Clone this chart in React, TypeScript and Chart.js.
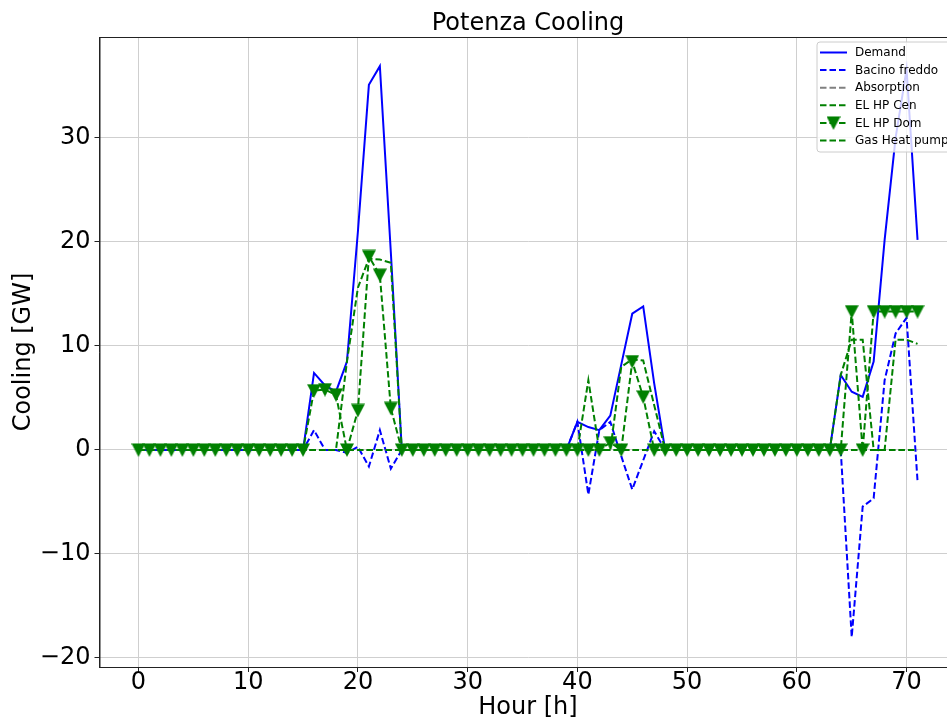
import React, { useEffect, useRef } from "react";
import { Chart, registerables } from "chart.js";

Chart.register(...registerables);

// ---------- data ----------
const hours = [
  0, 1, 2, 3, 4, 5, 6, 7, 8, 9,
  10, 11, 12, 13, 14, 15, 16, 17, 18, 19,
  20, 21, 22, 23, 24, 25, 26, 27, 28, 29,
  30, 31, 32, 33, 34, 35, 36, 37, 38, 39,
  40, 41, 42, 43, 44, 45, 46, 47, 48, 49,
  50, 51, 52, 53, 54, 55, 56, 57, 58, 59,
  60, 61, 62, 63, 64, 65, 66, 67, 68, 69,
  70, 71,
];

const demand = [
  0, 0, 0, 0, 0, 0, 0, 0, 0, 0,
  0, 0, 0, 0, 0, 0, 7.4, 6.2, 5.6, 8.5,
  21, 35.1, 36.9, 19, 0, 0, 0, 0, 0, 0,
  0, 0, 0, 0, 0, 0, 0, 0, 0, 0,
  2.7, 2.2, 1.9, 3.3, 8.2, 13.1, 13.8, 6.4, 0, 0,
  0, 0, 0, 0, 0, 0, 0, 0, 0, 0,
  0, 0, 0, 0, 7.2, 5.6, 5.1, 8.5, 20.2, 30,
  36.6, 20.2,
];

const bacinoFreddo = [
  0, 0, 0, 0, 0, 0, 0, 0, 0, 0,
  0, 0, 0, 0, 0, 0, 1.9, 0, 0, -0.3,
  0.3, -1.6, 1.9, -1.8, 0, 0, 0, 0, 0, 0,
  0, 0, 0, 0, 0, 0, 0, 0, 0, 0,
  2.7, -4.3, 1.9, 2.7, -0.6, -3.8, -1.0, 1.8, 0, 0,
  0, 0, 0, 0, 0, 0, 0, 0, 0, 0,
  0, 0, 0, 0, 0, -18, -5.45, -4.65, 6.7, 11.2,
  12.7, -3.0,
];

const absorption = [
  0, 0, 0, 0, 0, 0, 0, 0, 0, 0,
  0, 0, 0, 0, 0, 0, 0, 0, 0, 0,
  0, 0, 0, 0, 0, 0, 0, 0, 0, 0,
  0, 0, 0, 0, 0, 0, 0, 0, 0, 0,
  0, 0, 0, 0, 0, 0, 0, 0, 0, 0,
  0, 0, 0, 0, 0, 0, 0, 0, 0, 0,
  0, 0, 0, 0, 0, 0, 0, 0, 0, 0,
  0, 0,
];

const elHpCen = [
  0, 0, 0, 0, 0, 0, 0, 0, 0, 0,
  0, 0, 0, 0, 0, 0, 0, 0, 0, 8.5,
  15.6, 18.4, 18.3, 18.0, 0, 0, 0, 0, 0, 0,
  0, 0, 0, 0, 0, 0, 0, 0, 0, 0,
  0, 6.7, 0, 0, 8.0, 8.7, 8.6, 4.3, 0, 0,
  0, 0, 0, 0, 0, 0, 0, 0, 0, 0,
  0, 0, 0, 0, 7.2, 10.6, 10.6, 0, 0, 10.6,
  10.6, 10.2,
];

const elHpDom = [
  0, 0, 0, 0, 0, 0, 0, 0, 0, 0,
  0, 0, 0, 0, 0, 0, 5.7, 5.8, 5.3, 0,
  3.8, 18.6, 16.8, 4.0, 0, 0, 0, 0, 0, 0,
  0, 0, 0, 0, 0, 0, 0, 0, 0, 0,
  0, 0, 0, 0.7, 0, 8.5, 5.1, 0, 0, 0,
  0, 0, 0, 0, 0, 0, 0, 0, 0, 0,
  0, 0, 0, 0, 0, 13.3, 0, 13.3, 13.3, 13.3,
  13.3, 13.3,
];

const gasHeatPump = [
  0, 0, 0, 0, 0, 0, 0, 0, 0, 0,
  0, 0, 0, 0, 0, 0, 0, 0, 0, 0,
  0, 0, 0, 0, 0, 0, 0, 0, 0, 0,
  0, 0, 0, 0, 0, 0, 0, 0, 0, 0,
  0, 0, 0, 0, 0, 0, 0, 0, 0, 0,
  0, 0, 0, 0, 0, 0, 0, 0, 0, 0,
  0, 0, 0, 0, 0, 0, 0, 0, 0, 0,
  0, 0,
];

const xTicks = [0, 10, 20, 30, 40, 50, 60, 70];
const yTicks = [-20, -10, 0, 10, 20, 30];
const seriesLabels = ["Demand", "Bacino freddo", "Absorption", "EL HP Cen", "EL HP Dom", "Gas Heat pump"];
const titleText = "Potenza Cooling";
const xLabel = "Hour [h]";
const yLabel = "Cooling [GW]";

// ---------- styling ----------
const FONT = "'DejaVu Sans', sans-serif";
const BLUE = "#0000ff";
const GREEN = "#008000";
const GRAY = "#808080";
const DASH = [6.5, 3];
const CANVAS_W = 1000;
const CANVAS_H = 719;
const AREA = { left: 99.5, right: 956.5, top: 37, bottom: 667 };

function makeTriangle(size: number, color: string) {
  const c = document.createElement("canvas");
  c.width = size;
  c.height = size;
  const g = c.getContext("2d")!;
  g.fillStyle = color;
  g.beginPath();
  g.moveTo(0, 0.5);
  g.lineTo(size, 0.5);
  g.lineTo(size / 2, size);
  g.closePath();
  g.fill();
  return c;
}

function toPoints(vals: number[]) {
  return hours.map((h, i) => ({ x: h, y: vals[i] }));
}

export default function App() {
  const ref = useRef<HTMLCanvasElement | null>(null);

  useEffect(() => {
    if (!ref.current) return;
    const tri = makeTriangle(14, GREEN);

    const decorPlugin = {
      id: "decor",
      afterDraw(chart: any) {
        const ctx = chart.ctx as CanvasRenderingContext2D;
        const ca = chart.chartArea;
        ctx.save();
        // frame (all four spines)
        ctx.strokeStyle = "#222222";
        ctx.lineWidth = 1;
        ctx.strokeRect(Math.round(ca.left), Math.round(ca.top) + 0.5, ca.right - ca.left, ca.bottom - ca.top);

        // title
        const cx = (ca.left + ca.right) / 2;
        ctx.fillStyle = "#000";
        ctx.font = `24px ${FONT}`;
        ctx.textAlign = "center";
        ctx.textBaseline = "alphabetic";
        ctx.fillText(titleText, cx, 30);

        // x label
        ctx.font = `24px ${FONT}`;
        ctx.fillText(xLabel, cx, 714);

        // y label
        ctx.save();
        ctx.translate(30, (ca.top + ca.bottom) / 2);
        ctx.rotate(-Math.PI / 2);
        ctx.textAlign = "center";
        ctx.textBaseline = "alphabetic";
        ctx.fillText(yLabel, 0, 0);
        ctx.restore();

        // legend
        const lx = 817, ly = 42, lw = 150, lh = 110;
        ctx.beginPath();
        const r = 3;
        ctx.moveTo(lx + r, ly);
        ctx.lineTo(lx + lw - r, ly);
        ctx.quadraticCurveTo(lx + lw, ly, lx + lw, ly + r);
        ctx.lineTo(lx + lw, ly + lh - r);
        ctx.quadraticCurveTo(lx + lw, ly + lh, lx + lw - r, ly + lh);
        ctx.lineTo(lx + r, ly + lh);
        ctx.quadraticCurveTo(lx, ly + lh, lx, ly + lh - r);
        ctx.lineTo(lx, ly + r);
        ctx.quadraticCurveTo(lx, ly, lx + r, ly);
        ctx.closePath();
        ctx.fillStyle = "rgba(255,255,255,0.8)";
        ctx.fill();
        ctx.strokeStyle = "#cccccc";
        ctx.lineWidth = 1;
        ctx.stroke();

        const entries = [
          { color: BLUE, dash: [] as number[], marker: false },
          { color: BLUE, dash: DASH, marker: false },
          { color: GRAY, dash: DASH, marker: false },
          { color: GREEN, dash: DASH, marker: false },
          { color: GREEN, dash: DASH, marker: true },
          { color: GREEN, dash: DASH, marker: false },
        ];
        ctx.font = `12px ${FONT}`;
        ctx.textAlign = "left";
        ctx.textBaseline = "middle";
        entries.forEach((e, i) => {
          const y = 52.5 + i * 17.6;
          ctx.strokeStyle = e.color;
          ctx.lineWidth = 2;
          ctx.setLineDash(e.dash);
          ctx.beginPath();
          ctx.moveTo(820, y);
          ctx.lineTo(847, y);
          ctx.stroke();
          ctx.setLineDash([]);
          if (e.marker) {
            ctx.drawImage(tri, 833.5 - tri.width / 2, y - tri.height / 2);
          }
          ctx.fillStyle = "#000";
          ctx.fillText(seriesLabels[i], 855, y + 0.5);
        });
        ctx.restore();
      },
    };

    const chart = new Chart(ref.current, {
      type: "line",
      data: {
        datasets: [
          {
            label: seriesLabels[0],
            data: toPoints(demand),
            borderColor: BLUE,
            borderWidth: 2,
            pointRadius: 0,
            order: 6,
          },
          {
            label: seriesLabels[1],
            data: toPoints(bacinoFreddo),
            borderColor: BLUE,
            borderWidth: 2,
            borderDash: DASH,
            pointRadius: 0,
            order: 5,
          },
          {
            label: seriesLabels[2],
            data: toPoints(absorption),
            borderColor: GRAY,
            borderWidth: 2,
            borderDash: DASH,
            pointRadius: 0,
            order: 4,
          },
          {
            label: seriesLabels[3],
            data: toPoints(elHpCen),
            borderColor: GREEN,
            borderWidth: 2,
            borderDash: DASH,
            pointRadius: 0,
            order: 3,
          },
          {
            label: seriesLabels[4],
            data: toPoints(elHpDom),
            borderColor: GREEN,
            backgroundColor: GREEN,
            borderWidth: 2,
            borderDash: DASH,
            pointStyle: tri as any,
            pointRadius: 6,
            order: 2,
          },
          {
            label: seriesLabels[5],
            data: toPoints(gasHeatPump),
            borderColor: GREEN,
            borderWidth: 2,
            borderDash: DASH,
            pointRadius: 0,
            order: 1,
          },
        ],
      },
      options: {
        responsive: false,
        animation: false,
        devicePixelRatio: 1,
        events: [],
        elements: { line: { tension: 0, fill: false } },
        layout: {
          padding: { left: 0, top: AREA.top, right: CANVAS_W - AREA.right, bottom: 0 },
        },
        plugins: {
          legend: { display: false },
          title: { display: false },
          tooltip: { enabled: false },
        },
        scales: {
          x: {
            type: "linear",
            min: -3.55,
            max: 74.55,
            afterBuildTicks: (s: any) => {
              s.ticks = xTicks.map((v) => ({ value: v }));
            },
            afterFit: (s: any) => {
              s.height = CANVAS_H - AREA.bottom;
            },
            grid: {
              color: "#cfcfcf",
              lineWidth: 1,
              drawTicks: true,
              tickLength: 5,
              tickColor: "#222",
            },
            border: { display: true, color: "#222", width: 1 },
            ticks: {
              color: "#000",
              font: { family: FONT, size: 24 },
              padding: -4,
              maxRotation: 0,
              autoSkip: false,
            },
          },
          y: {
            type: "linear",
            min: -20.87,
            max: 39.7,
            afterBuildTicks: (s: any) => {
              s.ticks = yTicks.map((v) => ({ value: v }));
            },
            afterFit: (s: any) => {
              s.width = AREA.left;
            },
            grid: {
              color: "#cfcfcf",
              lineWidth: 1,
              drawTicks: true,
              tickLength: 5,
              tickColor: "#222",
            },
            border: { display: true, color: "#222", width: 1 },
            ticks: {
              color: "#000",
              font: { family: FONT, size: 24 },
              padding: 4,
              autoSkip: false,
              callback: (v: any) => (Number(v) < 0 ? "\u2212" + Math.abs(Number(v)) : String(v)),
            },
          },
        },
      },
      plugins: [decorPlugin],
    });

    return () => chart.destroy();
  }, []);

  return (
    <div
      style={{
        position: "fixed",
        left: 0,
        top: 0,
        width: 947,
        height: 719,
        overflow: "hidden",
        background: "#fff",
      }}
    >
      <canvas ref={ref} width={CANVAS_W} height={CANVAS_H} style={{ display: "block" }} />
    </div>
  );
}
